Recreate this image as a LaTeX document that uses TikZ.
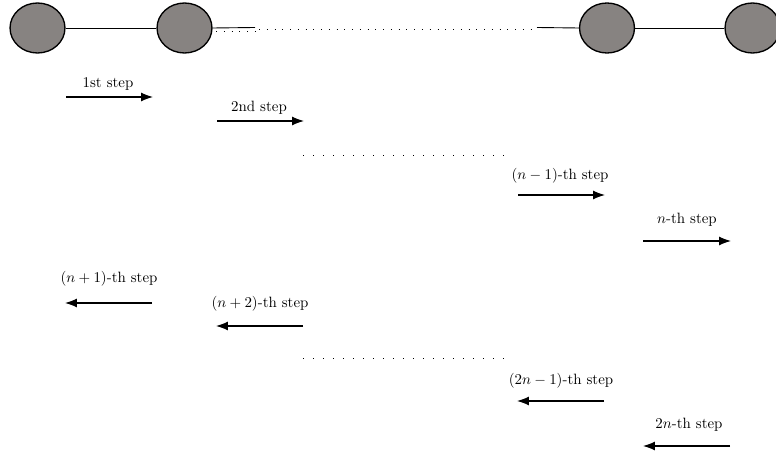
\documentclass[tikz,border=0pt]{standalone}
\usetikzlibrary{shapes.geometric,arrows.meta}
\definecolor{ballgray}{RGB}{135,131,129}
\begin{document}
\begin{tikzpicture}[x=0.67pt,y=-0.67pt,
  ball/.style={ellipse,draw=black,line width=0.9pt,fill=ballgray,inner sep=0pt,minimum width=36.8pt,minimum height=33.5pt},
  chain/.style={line width=0.6pt},
  dotrow/.style={line width=0.6pt,dash pattern=on 0.6pt off 6.1pt},
  chaindots/.style={line width=0.6pt,dash pattern=on 0.6pt off 4.6pt},
  steparrow/.style={line width=0.8pt,-{Latex[length=8pt,width=6pt]}},
  steplabel/.style={inner sep=0pt,font=\normalsize}]
\useasboundingbox (0,0) rectangle (776,458);
% chain
\node[ball] (c1) at (37.5,28) {};
\node[ball] (c2) at (184.5,28) {};
\node[ball] (c3) at (607,28) {};
\node[ball] (c4) at (752.5,28) {};
\coordinate (s1) at (255,27.5);
\coordinate (d1a) at (216,31);
\coordinate (d1b) at (255,31);
\coordinate (d2a) at (259,29);
\coordinate (d2b) at (535,29);
\coordinate (s2) at (537,27.5);
\draw[chain] (c1.east) -- (c2.west);
\draw[chain] (c2.east) -- (s1);
\draw[chaindots] (d1a) -- (d1b);
\draw[chaindots] (d2a) -- (d2b);
\draw[chain] (s2) -- (c3.west);
\draw[chain] (c3.east) -- (c4.west);
% forward steps
\coordinate (a1s) at (66,97);   \coordinate (a1e) at (153,97);
\coordinate (a2s) at (217,121); \coordinate (a2e) at (304,121);
\coordinate (a3s) at (518,195); \coordinate (a3e) at (605,195);
\coordinate (a4s) at (643,241); \coordinate (a4e) at (731,241);
\node[steplabel] (l1) at (108,84) {1st step};
\node[steplabel] (l2) at (259,108) {2nd step};
\node[steplabel] (l3) at (560,176) {$(n-1)$-th step};
\node[steplabel] (l4) at (687,220) {$n$-th step};
\draw[steparrow] (a1s) -- (a1e);
\draw[steparrow] (a2s) -- (a2e);
\draw[steparrow] (a3s) -- (a3e);
\draw[steparrow] (a4s) -- (a4e);
\coordinate (r1a) at (303,155); \coordinate (r1b) at (506,155);
\draw[dotrow] (r1a) -- (r1b);
% backward steps
\coordinate (b1s) at (152,303); \coordinate (b1e) at (65,303);
\coordinate (b2s) at (303,326); \coordinate (b2e) at (216,326);
\coordinate (b3s) at (604,401); \coordinate (b3e) at (517,401);
\coordinate (b4s) at (730,446); \coordinate (b4e) at (643,446);
\node[steplabel] (m1) at (109,279) {$(n+1)$-th step};
\node[steplabel] (m2) at (260,304) {$(n+2)$-th step};
\node[steplabel] (m3) at (561,381) {$(2n-1)$-th step};
\node[steplabel] (m4) at (689,425) {$2n$-th step};
\draw[steparrow] (b1s) -- (b1e);
\draw[steparrow] (b2s) -- (b2e);
\draw[steparrow] (b3s) -- (b3e);
\draw[steparrow] (b4s) -- (b4e);
\coordinate (r2a) at (303,358); \coordinate (r2b) at (506,358);
\draw[dotrow] (r2a) -- (r2b);
\end{tikzpicture}
\end{document}
